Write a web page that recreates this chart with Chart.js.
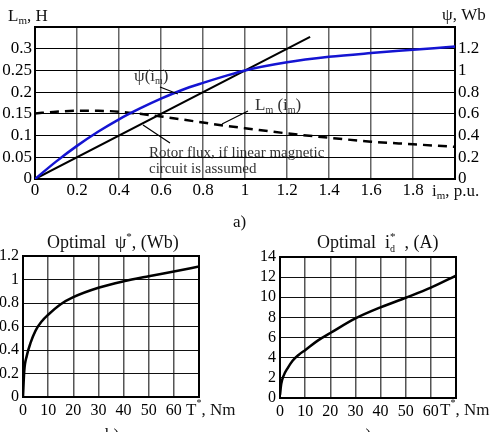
<!DOCTYPE html>
<html>
<head>
<meta charset="utf-8">
<script src="https://cdn.jsdelivr.net/npm/chart.js@4"></script>
<style>
body { margin: 0; background: #fff; width: 491px; height: 432px; overflow: hidden; position: relative; }
canvas { position: absolute; }
</style>
</head>
<body>
<canvas id="fluxChart" width="491" height="232" style="left:0;top:0"></canvas>
<canvas id="psiChart" width="245" height="200" style="left:0;top:232px"></canvas>
<canvas id="idChart" width="246" height="200" style="left:245px;top:232px"></canvas>
<script>
// a) magnetising current, p.u.
var iM = [0, 0.1, 0.2, 0.3, 0.4, 0.5, 0.6, 0.7, 0.8, 0.9, 1.0, 1.2, 1.4, 1.6, 1.8, 2.0];
var psiIm = [0, 0.16, 0.305, 0.435, 0.55, 0.65, 0.74, 0.82, 0.885, 0.945, 1.0, 1.075, 1.125, 1.16, 1.19, 1.22];
var lmIm = [0.151, 0.155, 0.157, 0.157, 0.155, 0.150, 0.144, 0.137, 0.130, 0.123, 0.117, 0.105, 0.095, 0.086, 0.080, 0.074];
var linearIm = [0, 1.31];
var linearPsi = [0, 1.31];

// b) optimal rotor flux vs torque
var torquePsi = [0, 0.5, 1.5, 3, 5, 7.5, 10, 15, 20, 30, 40, 50, 60, 70];
var psiOpt = [0, 0.22, 0.35, 0.46, 0.565, 0.645, 0.70, 0.79, 0.85, 0.93, 0.985, 1.028, 1.068, 1.11];

// c) optimal d-axis current vs torque
var torqueId = [0, 0.5, 1.5, 3, 5, 7.5, 10, 15, 20, 30, 40, 50, 60, 70];
var idOpt = [0.3, 1.4, 2.25, 2.95, 3.7, 4.3, 4.75, 5.7, 6.45, 7.9, 9.0, 9.95, 10.95, 12.15];

var SERIF = '"Liberation Serif", "Times New Roman", serif';

function pts(xs, ys) {
    return xs.map(function(x, i) { return { x: x, y: ys[i] }; });
}

function drawRich(ctx, x, y, parts) {
    parts.forEach(function(p) {
        ctx.font = (p.size || 17) + 'px ' + SERIF;
        ctx.fillText(p.t, x, y + (p.dy || 0));
        if (!p.stack) x += ctx.measureText(p.t).width;
    });
}

function fixed(w) { return function(s) { s.width = w; }; }
function fixedH(h) { return function(s) { s.height = h; }; }

function fmt(v) { return String(Math.round(v * 100) / 100); }

var frame = {
    id: 'frame',
    beforeDatasetsDraw: function(chart) {
        var a = chart.chartArea, ctx = chart.ctx;
        ctx.save();
        ctx.strokeStyle = '#000';
        ctx.lineWidth = 2;
        ctx.strokeRect(a.left, a.top, a.right - a.left, a.bottom - a.top);
        ctx.restore();
    }
};

var base = {
    responsive: false,
    animation: false,
    events: [],
    plugins: { legend: { display: false }, tooltip: { enabled: false } },
    elements: { point: { radius: 0 } }
};

// a) psi and Lm vs im
new Chart(document.getElementById('fluxChart'), {
    type: 'line',
    data: {
        datasets: [{
            data: pts(iM, psiIm), yAxisID: 'y1',
            borderColor: '#1414d2', borderWidth: 2.5,
            cubicInterpolationMode: 'monotone'
        }, {
            data: pts(linearIm, linearPsi), yAxisID: 'y1',
            borderColor: '#000', borderWidth: 2
        }, {
            data: pts(iM, lmIm), yAxisID: 'y',
            borderColor: '#000', borderWidth: 2.5, borderDash: [9, 6],
            cubicInterpolationMode: 'monotone'
        }]
    },
    options: Object.assign({}, base, {
        layout: { padding: { top: 27, left: 0, right: 0, bottom: 0 } },
        scales: {
            x: {
                type: 'linear', min: 0, max: 2, afterFit: fixedH(53),
                ticks: {
                    stepSize: 0.2, padding: 1, color: '#000', autoSkip: false, maxRotation: 0,
                    font: { family: SERIF, size: 17 },
                    callback: function(v) { return v >= 1.99 ? '' : fmt(v); }
                },
                grid: { color: '#666', lineWidth: 1.5, drawTicks: false },
                border: { color: '#000', width: 2 }
            },
            y: {
                position: 'left', min: 0, max: 0.35, afterFit: fixed(35),
                ticks: {
                    stepSize: 0.05, padding: 3, color: '#000', autoSkip: false,
                    font: { family: SERIF, size: 17 },
                    callback: function(v) { return v >= 0.34 ? '' : fmt(v); }
                },
                grid: { color: '#000', lineWidth: 1, drawTicks: false },
                border: { color: '#000', width: 2 }
            },
            y1: {
                position: 'right', min: 0, max: 1.4, afterFit: fixed(36),
                ticks: {
                    stepSize: 0.2, padding: 3, color: '#000', autoSkip: false,
                    font: { family: SERIF, size: 17 },
                    callback: function(v) { return v >= 1.39 ? '' : fmt(v); }
                },
                grid: { display: false, drawTicks: false },
                border: { color: '#000', width: 2 }
            }
        }
    }),
    plugins: [frame, {
        id: 'labelsA',
        afterDraw: function(chart) {
            var ctx = chart.ctx;
            ctx.save();
            ctx.fillStyle = '#111';
            ctx.textBaseline = 'alphabetic';
            drawRich(ctx, 8, 21, [{ t: 'L' }, { t: 'm', size: 11, dy: 3 }, { t: ', H' }]);
            drawRich(ctx, 442, 20, [{ t: 'ψ, Wb' }]);
            drawRich(ctx, 432, 196, [{ t: 'i' }, { t: 'm', size: 11, dy: 3 }, { t: ', p.u.' }]);
            drawRich(ctx, 233, 227, [{ t: 'a)' }]);
            ctx.fillStyle = '#333';
            drawRich(ctx, 134, 81, [{ t: 'ψ(i', size: 17 }, { t: 'm', size: 10, dy: 3 }, { t: ')', size: 17 }]);
            drawRich(ctx, 255, 110, [{ t: 'L', size: 17 }, { t: 'm', size: 10, dy: 3 }, { t: ' (i', size: 17 },
                { t: 'm', size: 10, dy: 3 }, { t: ')', size: 17 }]);
            drawRich(ctx, 149, 157, [{ t: 'Rotor flux, if linear magnetic', size: 15 }]);
            drawRich(ctx, 149, 173, [{ t: 'circuit is assumed', size: 15 }]);
            ctx.strokeStyle = '#000';
            ctx.lineWidth = 1.2;
            ctx.beginPath();
            ctx.moveTo(160, 87); ctx.lineTo(178, 94);
            ctx.moveTo(248, 111); ctx.lineTo(222, 124);
            ctx.moveTo(143, 125); ctx.lineTo(170, 143);
            ctx.stroke();
            ctx.restore();
        }
    }]
});

function torqueChart(id, xs, ys, yMax, yStep, padR, padT, axisW, axisH, title, tX, capX) {
    new Chart(document.getElementById(id), {
        type: 'line',
        data: {
            datasets: [{
                data: pts(xs, ys), borderColor: '#000', borderWidth: 2.5,
                cubicInterpolationMode: 'monotone'
            }]
        },
        options: Object.assign({}, base, {
            layout: { padding: { top: padT, left: 0, right: padR, bottom: 0 } },
            scales: {
                x: {
                    type: 'linear', min: 0, max: 70, afterFit: fixedH(axisH),
                    ticks: {
                        stepSize: 10, padding: 4, color: '#000', autoSkip: false, maxRotation: 0,
                        font: { family: SERIF, size: 16 },
                        callback: function(v) { return v >= 70 ? '' : String(v); }
                    },
                    grid: { color: '#555', lineWidth: 1.5, drawTicks: false },
                    border: { color: '#000', width: 2 }
                },
                y: {
                    min: 0, max: yMax, afterFit: fixed(axisW),
                    ticks: {
                        stepSize: yStep, padding: 4, color: '#000', autoSkip: false,
                        font: { family: SERIF, size: 16 },
                        callback: function(v) { return fmt(v); }
                    },
                    grid: { color: '#111', lineWidth: 1, drawTicks: false },
                    border: { color: '#000', width: 2 }
                }
            }
        }),
        plugins: [frame, {
            id: 'labels_' + id,
            afterDraw: function(chart) {
                var ctx = chart.ctx;
                ctx.save();
                ctx.fillStyle = '#111';
                drawRich(ctx, title.x, 16, title.parts);
                drawRich(ctx, tX, 183, [{ t: 'T', size: 17 }, { t: '*', size: 10, dy: -9 }, { t: ', Nm', size: 17 }]);
                ctx.textBaseline = 'top';
                drawRich(ctx, capX, 195, [{ t: id === 'psiChart' ? 'b)' : 'c)', size: 17 }]);
                ctx.restore();
            }
        }]
    });
}

torqueChart('psiChart', torquePsi, psiOpt, 1.2, 0.2, 46, 24, 23, 35,
    { x: 47, parts: [{ t: 'Optimal  ψ', size: 18 }, { t: '*', size: 11, dy: -8 }, { t: ', (Wb)', size: 18 }] },
    186, 105);
torqueChart('idChart', torqueId, idOpt, 14, 2, 35, 25, 35, 34,
    { x: 72, parts: [{ t: 'Optimal  i', size: 18 }, { t: 'd', size: 10, dy: 4, stack: true },
        { t: '*', size: 11, dy: -8 }, { t: '  , (A)', size: 18 }] },
    195, 113);
</script>
</body>
</html>
